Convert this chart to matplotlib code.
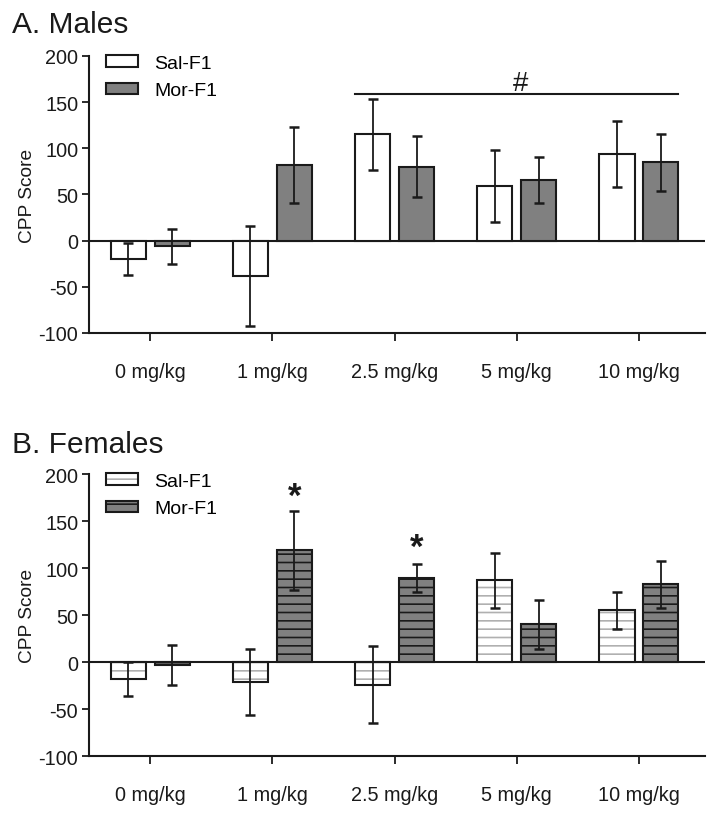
import matplotlib
matplotlib.use('Agg')
import matplotlib.pyplot as plt
from matplotlib.patches import Patch
from matplotlib.legend_handler import HandlerTuple
import numpy as np

plt.rcParams['font.family'] = ['Liberation Sans', 'DejaVu Sans']
plt.rcParams['hatch.linewidth'] = 1.2
plt.rcParams['axes.unicode_minus'] = False

doses = ['0 mg/kg', '1 mg/kg', '2.5 mg/kg', '5 mg/kg', '10 mg/kg']
series = ['Sal-F1', 'Mor-F1']

male_sal = [-20, -38, 115, 59, 94]
male_sal_err = [17, 54, 38, 39, 36]
male_mor = [-6, 82, 80, 66, 85]
male_mor_err = [19, 41, 33, 25, 31]

female_sal = [-18, -21, -24, 87, 55]
female_sal_err = [18, 35, 41, 29, 20]
female_mor = [-3, 119, 89, 40, 83]
female_mor_err = [21, 42, 15, 26, 25]

EDGE = '#1a1a1a'
GRAY = '#808080'
W = 0.29
OFF = 0.18

fig = plt.figure(figsize=(7.14, 8.2), dpi=100)
axA = fig.add_axes([0.125, 0.5927, 0.862, 0.3378])
axB = fig.add_axes([0.125, 0.0768, 0.862, 0.3439])


def style_axis(ax):
    x = np.arange(len(doses))
    ax.set_xlim(-0.5, 4.54)
    ax.set_ylim(-100, 200)
    ax.set_yticks([-100, -50, 0, 50, 100, 150, 200])
    ax.set_xticks(x)
    ax.set_xticklabels(doses)
    for s in ['top', 'right']:
        ax.spines[s].set_visible(False)
    for s in ['left', 'bottom']:
        ax.spines[s].set_linewidth(1.5)
        ax.spines[s].set_color(EDGE)
    ax.tick_params(axis='x', direction='out', length=6, width=1.3, pad=15,
                   labelsize=14.3, colors=EDGE)
    ax.tick_params(axis='y', direction='out', length=5, width=1.3, pad=3,
                   labelsize=14.3, colors=EDGE)
    ax.axhline(0, color=EDGE, lw=1.5, zorder=1)
    ax.set_ylabel('CPP Score', fontsize=13.8, labelpad=1.5, color=EDGE)


def errs(ax, xs, vals, e):
    ax.errorbar(xs, vals, yerr=e, fmt='none', ecolor=EDGE, elinewidth=1.3,
                capsize=3.5, capthick=1.8, zorder=4)


LEG = dict(loc='upper left', bbox_to_anchor=(0.028, 1.005), frameon=False,
           fontsize=14, handlelength=1.6, handleheight=0.55, handletextpad=0.85,
           labelspacing=0.55, borderpad=0, borderaxespad=0)

# Panel A
x = np.arange(len(doses))
style_axis(axA)
axA.bar(x - OFF, male_sal, W, color='white', edgecolor=EDGE, linewidth=1.5, zorder=2)
axA.bar(x + OFF, male_mor, W, color=GRAY, edgecolor=EDGE, linewidth=1.5, zorder=2)
errs(axA, x - OFF, male_sal, male_sal_err)
errs(axA, x + OFF, male_mor, male_mor_err)
left = 2 - OFF - W / 2
right = 4 + OFF + W / 2
axA.plot([left, right], [159, 159], color=EDGE, lw=1.5)
axA.text(3.03, 171, '#', ha='center', va='center', fontsize=20, color=EDGE)
hA = [Patch(facecolor='white', edgecolor=EDGE, lw=1.5),
      Patch(facecolor=GRAY, edgecolor=EDGE, lw=1.5)]
axA.legend(hA, series, **LEG)

# Panel B
style_axis(axB)
axB.bar(x - OFF, female_sal, W, color='white', edgecolor='#b0b0b0', hatch='--',
        linewidth=0, zorder=2)
axB.bar(x - OFF, female_sal, W, fill=False, edgecolor=EDGE, linewidth=1.5, zorder=3)
axB.bar(x + OFF, female_mor, W, color=GRAY, edgecolor=EDGE, hatch='--',
        linewidth=0, zorder=2)
axB.bar(x + OFF, female_mor, W, fill=False, edgecolor=EDGE, linewidth=1.5, zorder=3)
errs(axB, x - OFF, female_sal, female_sal_err)
errs(axB, x + OFF, female_mor, female_mor_err)
axB.text(1 + OFF, 176, '*', ha='center', va='center', fontsize=25,
         fontweight='bold', color=EDGE)
axB.text(2 + OFF, 122, '*', ha='center', va='center', fontsize=25,
         fontweight='bold', color=EDGE)
hB = [(Patch(facecolor='white', edgecolor='#b0b0b0', hatch='--', lw=0),
       Patch(fill=False, edgecolor=EDGE, lw=1.5)),
      (Patch(facecolor=GRAY, edgecolor=EDGE, hatch='--', lw=0),
       Patch(fill=False, edgecolor=EDGE, lw=1.5))]
axB.legend(hB, series, handler_map={tuple: HandlerTuple(ndivide=1, pad=0)}, **LEG)

fig.text(12 / 714, 1 - 33 / 820, 'A. Males', fontsize=21.5, va='baseline', color=EDGE)
fig.text(12 / 714, 1 - 453 / 820, 'B. Females', fontsize=21.5, va='baseline', color=EDGE)

fig.savefig('out.png', dpi=100)
